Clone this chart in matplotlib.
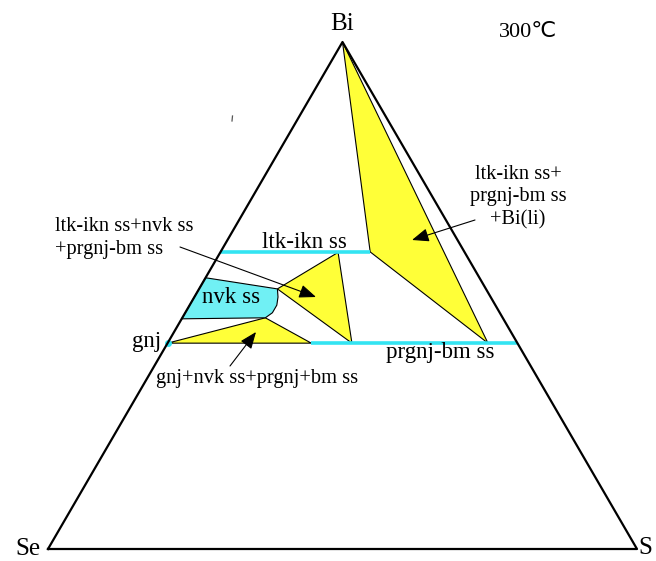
import numpy as np
import matplotlib.pyplot as plt
from matplotlib.patches import Polygon

# corners of the triangle in image pixels (Se, S, Bi)
SE_XY = (48, 549)
S_XY = (637, 549)
BI_XY = (342.5, 42)

# compositions given as (S fraction, Bi fraction); Se is the rest
big_field = [(0.0, 1.0), (0.254, 0.586), (0.544, 0.406)]          # ltk-ikn + prgnj-bm + Bi(li)
mid_field = [(0.200, 0.585), (0.133, 0.513), (0.313, 0.406)]      # ltk-ikn + nvk + prgnj-bm
low_field = [(0.0, 0.406), (0.141, 0.456), (0.244, 0.406)]        # gnj + nvk + prgnj-bm
nvk_field = [(0.0, 0.535), (0.133, 0.513), (0.142, 0.497), (0.148, 0.481),
             (0.148, 0.466), (0.141, 0.456), (0.0, 0.454)]
ltk_ikn_line = [(0.0, 0.585), (0.254, 0.585)]
prgnj_line = [(0.244, 0.406), (0.594, 0.406)]
gnj_point = (0.0, 0.406)

YELLOW = "#FFFF38"
CYAN_FILL = "#70F0F4"
CYAN_LINE = "#33E4F2"

plt.rcParams.update({
    "font.family": ["Liberation Serif", "DejaVu Sans"],
    "font.size": 14.7,
})


def to_xy(pts):
    pts = np.atleast_2d(np.asarray(pts, dtype=float))
    s, bi = pts[:, 0], pts[:, 1]
    se = 1.0 - s - bi
    x = se * SE_XY[0] + s * S_XY[0] + bi * BI_XY[0]
    y = se * SE_XY[1] + s * S_XY[1] + bi * BI_XY[1]
    return np.column_stack([x, y])


fig = plt.figure(figsize=(6.56, 5.61), dpi=100)
ax = fig.add_axes([0, 0, 1, 1])
ax.set_xlim(0, 656)
ax.set_ylim(561, 0)
ax.axis("off")

for pts in (big_field, mid_field, low_field):
    ax.add_patch(Polygon(to_xy(pts), closed=True, facecolor=YELLOW,
                         edgecolor="black", linewidth=0.8, zorder=2))
ax.add_patch(Polygon(to_xy(nvk_field), closed=True, facecolor=CYAN_FILL,
                     edgecolor="black", linewidth=0.8, zorder=2))

for line in (ltk_ikn_line, prgnj_line):
    xy = to_xy(line)
    ax.plot(xy[:, 0], xy[:, 1], color=CYAN_LINE, linewidth=2.6,
            solid_capstyle="butt", zorder=3)

g = to_xy(gnj_point)
ax.plot(g[:, 0], g[:, 1], "o", color=CYAN_LINE, markersize=4, zorder=4)

# outer triangle
tri = np.array([SE_XY, S_XY, BI_XY, SE_XY])
ax.plot(tri[:, 0], tri[:, 1], color="black", linewidth=1.6, zorder=5)

# corner labels
ax.text(342, 24, "Bi", fontsize=18, ha="center", va="center")
ax.text(28, 549, "Se", fontsize=18, ha="center", va="center")
ax.text(645, 548, "S", fontsize=18, ha="center", va="center")
ax.text(528, 32, "300℃", fontsize=16, ha="center", va="center")

# phase labels
ax.text(304, 242, "ltk-ikn ss", fontsize=16.5, ha="center", va="center")
ax.text(231, 297, "nvk ss", fontsize=16.5, ha="center", va="center")
ax.text(161, 341, "gnj", fontsize=16.5, ha="right", va="center")
ax.text(440, 352, "prgnj-bm ss", fontsize=16.5, ha="center", va="center")

arrow = dict(arrowstyle="-|>,head_length=0.7,head_width=0.28",
             color="black", linewidth=0.8, shrinkA=0, shrinkB=0)

ax.text(55, 238, "ltk-ikn ss+nvk ss\n+prgnj-bm ss", ha="left", va="center",
        linespacing=1.3)
ax.annotate("", xy=(316, 297), xytext=(180, 247), arrowprops=arrow, zorder=6)

ax.text(518, 197, "ltk-ikn ss+\nprgnj-bm ss\n+Bi(li)", ha="center", va="center",
        linespacing=1.25)
ax.annotate("", xy=(412, 240), xytext=(475, 220), arrowprops=arrow, zorder=6)

ax.text(257, 378, "gnj+nvk ss+prgnj+bm ss", ha="center", va="center")
ax.annotate("", xy=(256, 332), xytext=(230, 366), arrowprops=arrow, zorder=6)

# small stray mark in the original scan
ax.plot([232.5, 232], [116, 121], color="#555555", linewidth=0.9)

fig.savefig("out.png", dpi=100)
